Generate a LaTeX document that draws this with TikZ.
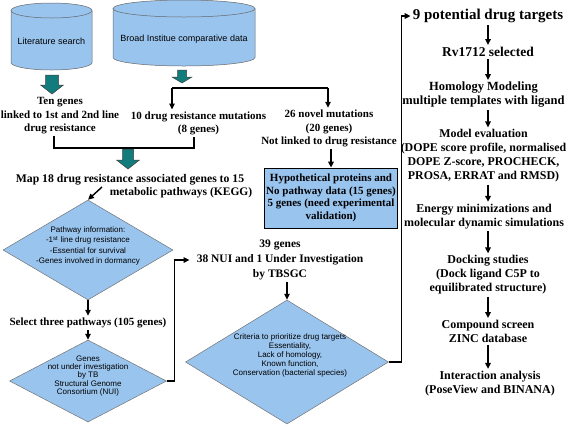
\documentclass[tikz,border=0pt]{standalone}
\usepackage{fontspec}
\setmainfont{Liberation Serif}
\setsansfont{Liberation Sans}
\usetikzlibrary{arrows.meta,shapes.geometric}
\definecolor{boxblue}{RGB}{153,196,238}
\definecolor{tealfill}{RGB}{18,124,124}
\begin{document}
\begin{tikzpicture}[x=1pt,y=-1pt,
  conn/.style={line width=1.4pt,-{Triangle[length=6pt,width=5.5pt]}},
  wire/.style={line width=1.4pt},
  lbl/.style={font=\fontsize{11}{13.5}\selectfont\bfseries,align=center,inner sep=2pt},
  rlbl/.style={font=\fontsize{12}{14}\selectfont\bfseries,align=center,inner sep=2pt},
  sml/.style={font=\fontsize{8}{#1}\selectfont\sffamily,align=center,inner sep=1pt},
  sml/.default=9,
  dia/.style={diamond,draw=black!55,line width=0.5pt,fill=boxblue,inner sep=0pt},
  blk/.style={fill=tealfill,draw=black!75,line width=0.5pt},
  cylline/.style={draw=black!60,line width=0.5pt},
]
\useasboundingbox (0,0) rectangle (567,424);

% ---- cylinders
\fill[boxblue] (11,10.5) -- (11,62.5) arc[start angle=180,end angle=360,x radius=40.5pt,y radius=7.5pt] -- (92,10.5) arc[start angle=0,end angle=180,x radius=40.5pt,y radius=7.5pt] -- cycle;
\draw[cylline] (11,10.5) -- (11,62.5) arc[start angle=180,end angle=360,x radius=40.5pt,y radius=7.5pt] -- (92,10.5);
\draw[cylline] (51.5,10.5) ellipse[x radius=40.5pt,y radius=7.5pt];
\node[sml] (lit) at (51.5,41) {\fontsize{9}{10}\selectfont Literature search};

\fill[boxblue] (113,8.5) -- (113,57.5) arc[start angle=180,end angle=360,x radius=71pt,y radius=8.5pt] -- (255,8.5) arc[start angle=0,end angle=180,x radius=71pt,y radius=8.5pt] -- cycle;
\draw[cylline] (113,8.5) -- (113,57.5) arc[start angle=180,end angle=360,x radius=71pt,y radius=8.5pt] -- (255,8.5);
\draw[cylline] (184,8.5) ellipse[x radius=71pt,y radius=8.5pt];
\node[sml] (broad) at (184,39) {\fontsize{9}{10}\selectfont Broad Institue comparative data};

% ---- block arrows
\filldraw[blk] (45.5,75) -- (45.5,85) -- (40.5,85) -- (52,94) -- (63.5,85) -- (58.5,85) -- (58.5,75) -- cycle;
\filldraw[blk] (177.5,70) -- (177.5,77) -- (172,77) -- (182,83) -- (192,77) -- (186.5,77) -- (186.5,70) -- cycle;
\filldraw[blk] (122.5,149) -- (122.5,160) -- (116.5,160) -- (128,169) -- (139.5,160) -- (133.5,160) -- (133.5,149) -- cycle;

% ---- left / middle labels
\node[lbl] (ten) at (60,116) {Ten genes\\linked to 1st and 2nd line\\drug resistance};
\node[lbl] (drm) at (198.5,123.5) {10 drug resistance mutations\\(8 genes)};
\node[lbl] (nov) at (329,128.5) {26 novel mutations\\(20 genes)\\Not linked to drug resistance};
\node[lbl,font=\fontsize{11.7}{13.5}\selectfont\bfseries] (map1) at (130,180) {Map 18 drug resistance associated genes to 15};
\node[lbl,font=\fontsize{11.5}{13.5}\selectfont\bfseries] (map2) at (181,193) {metabolic pathways (KEGG)};
\node[lbl,draw=black,line width=0.8pt,fill=boxblue,minimum width=132pt,minimum height=60pt,font=\fontsize{11}{12.5}\selectfont\bfseries] (hyp) at (331,198) {Hypothetical proteins and\\No pathway data (15 genes)\\5 genes (need experimental\\validation)};
\node[lbl,font=\fontsize{11}{13.5}\selectfont\bfseries] (sel) at (88,323) {Select three pathways (105 genes)};
\node[lbl,font=\fontsize{11.5}{15}\selectfont\bfseries] (t39) at (280,260) {39 genes\\38 NUI and 1 Under Investigation\\by TBSGC};

% ---- diamonds
\node[dia,minimum width=170pt,minimum height=100pt] (d1) at (88,250) {};
\node[sml=10.5] (d1t) at (88,246) {Pathway information:\\-1\textsuperscript{st} line drug resistance\\-Essential for survival\\-Genes involved in dormancy};
\node[dia,minimum width=157pt,minimum height=82pt] (d2) at (88,381) {};
\node[sml=8.2] (d2t) at (88,376) {Genes\\not under investigation\\by TB\\Structural Genome\\Consortium (NUI)};
\node[dia,minimum width=203pt,minimum height=124pt] (d3) at (287,362) {};
\node[sml=8.8] (d3t) at (290,355.5) {Criteria to prioritize drug targets\\Essentiality,\\Lack of homology,\\Known function,\\Conservation (bacterial species)};

% ---- right column
\node[rlbl,font=\fontsize{15}{17}\selectfont\bfseries] (t9) at (488,16) {9 potential drug targets};
\node[rlbl,font=\fontsize{13.5}{15}\selectfont\bfseries] (rv) at (488,52) {Rv1712 selected};
\node[rlbl,font=\fontsize{12.5}{14}\selectfont\bfseries] (hom) at (483.5,95) {Homology Modeling\\multiple templates with ligand};
\node[rlbl,font=\fontsize{11.9}{14}\selectfont\bfseries] (mod) at (483.5,156) {Model evaluation\\(DOPE score profile, normalised\\DOPE Z-score, PROCHECK,\\PROSA, ERRAT and RMSD)};
\node[rlbl] (ene) at (484,216.5) {Energy minimizations and\\molecular dynamic simulations};
\node[rlbl] (doc) at (488,275) {Docking studies\\(Dock ligand C5P to\\equilibrated structure)};
\node[rlbl] (cmp) at (488,331.5) {Compound screen\\ZINC database};
\node[rlbl] (int) at (490,383.5) {Interaction analysis\\(PoseView and BINANA)};

% ---- connectors
\coordinate (forkL) at (172,88);
\coordinate (forkR) at (328,88);
\draw[wire] (forkL) -- (forkR);
\draw[conn] (forkL) -- (forkL |- drm.north);
\draw[conn] (forkR) -- (forkR |- nov.north);

\coordinate (brL) at (54,136);
\coordinate (brR) at (194,137);
\draw[wire] (brL) -- ++(0,12) -| (brR);

\draw[conn] (hyp.north |- nov.south) -- (hyp.north);

\coordinate (mapfrom) at (102,187);
\draw[conn] (mapfrom) -- (d1.north);
\draw[conn] (d1.south) -- (sel.north);
\draw[conn] (sel.south) -- (d2.north);
\draw[conn,shorten >=5pt] (d2.east) -- ++(8,0) |- (t39.west);
\draw[conn] (d3.north |- t39.south) -- (d3.north);
\draw[conn] (d3.east) -- ++(13,0) |- (t9.west);

\coordinate (rx) at (488,0);
\draw[conn] (t9.south -| rx) -- (rv.north -| rx);
\draw[conn] (rv.south -| rx) -- (hom.north -| rx);
\draw[conn] (hom.south -| rx) -- (mod.north -| rx);
\draw[conn] (mod.south -| rx) -- (ene.north -| rx);
\draw[conn] (ene.south -| rx) -- (doc.north -| rx);
\draw[conn] (doc.south -| rx) -- (cmp.north -| rx);
\draw[conn] (cmp.south -| rx) -- (int.north -| rx);
\end{tikzpicture}
\end{document}
